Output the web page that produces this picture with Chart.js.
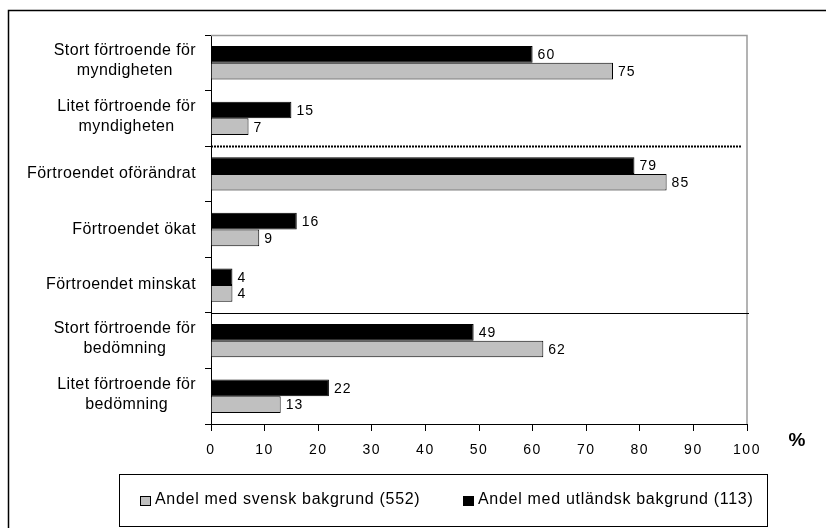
<!DOCTYPE html>
<html>
<head>
<meta charset="utf-8">
<script src="https://cdn.jsdelivr.net/npm/chart.js@4"></script>
<style>
  html, body { margin: 0; padding: 0; background: #fff; }
  #wrap { width: 826px; height: 528px; }
</style>
</head>
<body>
<div id="wrap"><canvas id="chart" width="826" height="528"></canvas></div>
<script>
const categories = [
  ['Stort förtroende för', 'myndigheten'],
  ['Litet förtroende för', 'myndigheten'],
  ['Förtroendet oförändrat'],
  ['Förtroendet ökat'],
  ['Förtroendet minskat'],
  ['Stort förtroende för', 'bedömning'],
  ['Litet förtroende för', 'bedömning']
];
const svensk = [75, 7, 85, 9, 4, 62, 13];
const utlandsk = [60, 15, 79, 16, 4, 49, 22];
const labelSvensk = 'Andel med svensk bakgrund (552)';
const labelUtlandsk = 'Andel med utländsk bakgrund (113)';
const xTicks = [0, 10, 20, 30, 40, 50, 60, 70, 80, 90, 100];

const FONT = 'Liberation Sans, Arial, sans-serif';
Chart.defaults.font.family = FONT;
Chart.defaults.color = '#000';

// frame, plot border, separators, labels, legend
const decor = {
  id: 'decor',
  beforeDraw(chart) {
    // the original prints text slightly spaced out
    chart.ctx.letterSpacing = '1.5px';
  },
  beforeDatasetsDraw(chart) {
    const { ctx, chartArea: a, scales: { y } } = chart;
    ctx.save();
    ctx.strokeStyle = '#9a9a9a';
    ctx.lineWidth = 1.5;
    ctx.beginPath();
    ctx.moveTo(a.left, a.top + 0.5);
    ctx.lineTo(a.right, a.top + 0.5);
    ctx.lineTo(a.right, a.bottom);
    ctx.stroke();

    // dotted separator after the "myndigheten" rows
    const yDot = Math.round(y.getPixelForValue(1.5)) + 0.5;
    ctx.strokeStyle = '#000';
    ctx.lineWidth = 2;
    ctx.setLineDash([2, 1]);
    ctx.beginPath();
    ctx.moveTo(a.left, yDot);
    ctx.lineTo(a.right - 6, yDot);
    ctx.stroke();
    ctx.setLineDash([]);

    // solid separator before "bedömning" rows
    const ySol = Math.round(y.getPixelForValue(4.5)) + 0.5;
    ctx.lineWidth = 1;
    ctx.beginPath();
    ctx.moveTo(a.left, ySol);
    ctx.lineTo(a.right + 2, ySol);
    ctx.stroke();
    ctx.restore();
  },
  afterDraw(chart) {
    const { ctx, scales: { y } } = chart;
    ctx.save();
    ctx.fillStyle = '#000';

    // value labels
    ctx.font = '14px ' + FONT;
    ctx.letterSpacing = '1px';
    ctx.textAlign = 'left';
    ctx.textBaseline = 'middle';
    chart.data.datasets.forEach((ds, i) => {
      chart.getDatasetMeta(i).data.forEach((bar, j) => {
        ctx.fillText(ds.data[j], bar.x + 5, bar.y + 1);
      });
    });

    // category labels, lines centred within a right-aligned block
    ctx.font = '16px ' + FONT;
    ctx.letterSpacing = '0.4px';
    ctx.textAlign = 'center';
    categories.forEach((lines, i) => {
      const w = Math.max(...lines.map(l => ctx.measureText(l).width));
      const cx = 196 - w / 2;
      const cy = y.getPixelForTick(i);
      lines.forEach((l, k) => {
        ctx.fillText(l, cx, cy + (k - (lines.length - 1) / 2) * 20 - (lines.length > 1 ? 2 : 0));
      });
    });

    // axis unit
    ctx.letterSpacing = '0px';
    ctx.font = 'bold 19px ' + FONT;
    ctx.fillText('%', 797, 441);

    // outer frame
    ctx.strokeStyle = '#000';
    ctx.lineWidth = 1.5;
    ctx.beginPath();
    ctx.moveTo(826, 10.5);
    ctx.lineTo(8.5, 10.5);
    ctx.lineTo(8.5, 528);
    ctx.stroke();

    // legend box
    ctx.lineWidth = 1;
    ctx.strokeRect(119.5, 474.5, 648, 52);
    const items = [
      { text: labelSvensk, color: chart.data.datasets[1].backgroundColor, x: 140 },
      { text: labelUtlandsk, color: chart.data.datasets[0].backgroundColor, x: 463 }
    ];
    ctx.font = '16px ' + FONT;
    ctx.letterSpacing = '0.7px';
    ctx.textAlign = 'left';
    items.forEach(it => {
      ctx.fillStyle = it.color;
      ctx.fillRect(it.x, 496, 11, 10);
      ctx.strokeRect(it.x + 0.5, 496.5, 10, 9);
      ctx.fillStyle = '#000';
      ctx.fillText(it.text, it.x + 15, 500);
    });
    ctx.restore();
  }
};

new Chart(document.getElementById('chart'), {
  type: 'bar',
  data: {
    labels: categories,
    datasets: [
      {
        label: labelUtlandsk,
        data: utlandsk,
        backgroundColor: '#000000',
        borderColor: '#000000',
        borderWidth: 1
      },
      {
        label: labelSvensk,
        data: svensk,
        backgroundColor: '#c0c0c0',
        borderColor: '#000000',
        borderWidth: 1
      }
    ]
  },
  options: {
    indexAxis: 'y',
    responsive: false,
    animation: false,
    categoryPercentage: 0.6,
    barPercentage: 1.0,
    layout: { padding: { left: 0, top: 35, right: 79, bottom: 0 } },
    plugins: { legend: { display: false }, tooltip: { enabled: false } },
    scales: {
      x: {
        min: 0,
        max: 100,
        afterBuildTicks: s => { s.ticks = xTicks.map(v => ({ value: v })); },
        afterFit: s => { s.height = 104; },
        border: { color: '#000', width: 1 },
        grid: { drawOnChartArea: false, color: '#000', tickLength: 7 },
        ticks: { font: { size: 14 }, color: '#000', padding: 11 }
      },
      y: {
        afterFit: s => { s.width = 211; },
        border: { color: '#000', width: 1 },
        grid: { drawOnChartArea: false, color: '#000', tickLength: 6, offset: true },
        ticks: { display: false }
      }
    }
  },
  plugins: [decor]
});
</script>
</body>
</html>
